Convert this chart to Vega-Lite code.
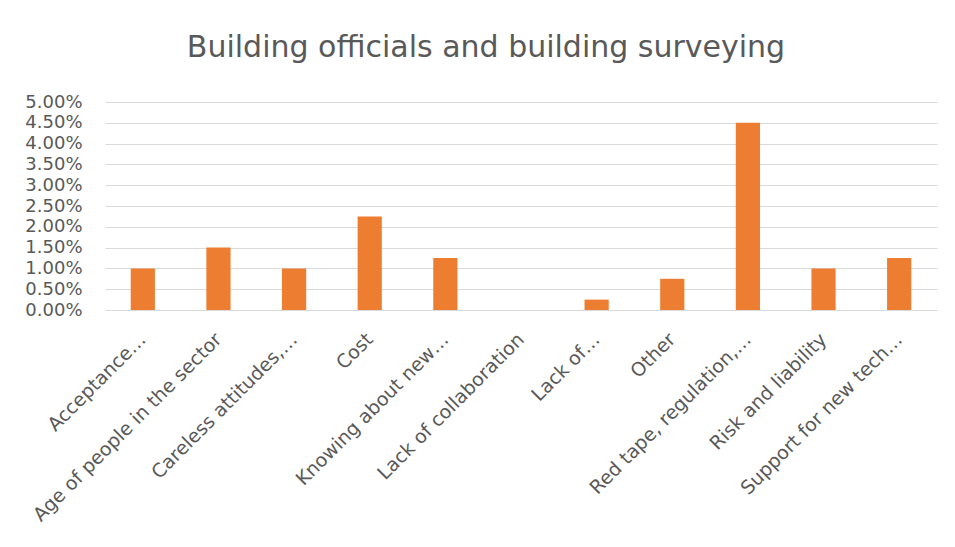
{
  "$schema": "https://vega.github.io/schema/vega-lite/v6.json",
  "width": 832,
  "height": 208,
  "autosize": {"type": "none"},
  "padding": {"left": 105, "top": 102, "right": 18, "bottom": 237},
  "background": "#ffffff",
  "title": {
    "text": "Building officials and building surveying",
    "font": "DejaVu Sans",
    "fontSize": 30,
    "fontWeight": "normal",
    "color": "#595959",
    "anchor": "middle",
    "baseline": "alphabetic",
    "offset": 6,
    "dx": -35
  },
  "data": {
    "values": [
      {"category": "Acceptance…", "value": 0.01},
      {"category": "Age of people in the sector", "value": 0.015},
      {"category": "Careless attitudes,…", "value": 0.01},
      {"category": "Cost", "value": 0.0225},
      {"category": "Knowing about new…", "value": 0.0125},
      {"category": "Lack of collaboration", "value": 0},
      {"category": "Lack of…", "value": 0.0025},
      {"category": "Other", "value": 0.0075},
      {"category": "Red tape, regulation,…", "value": 0.045},
      {"category": "Risk and liability", "value": 0.01},
      {"category": "Support for new tech…", "value": 0.0125}
    ]
  },
  "mark": {"type": "bar", "color": "#ED7D31"},
  "encoding": {
    "x": {
      "field": "category",
      "type": "nominal",
      "sort": null,
      "scale": {"paddingInner": 0.68, "paddingOuter": 0.34},
      "axis": {
        "title": null,
        "labelAngle": -45,
        "labelAlign": "right",
        "labelBaseline": "middle",
        "labelPadding": 26,
        "labelFont": "DejaVu Sans",
        "labelFontSize": 19,
        "labelColor": "#595959",
        "labelLimit": 0,
        "ticks": false,
        "domain": true,
        "domainColor": "#d9d9d9",
        "domainWidth": 1,
        "grid": false
      }
    },
    "y": {
      "field": "value",
      "type": "quantitative",
      "scale": {"domain": [0, 0.05], "nice": false},
      "axis": {
        "title": null,
        "values": [0, 0.005, 0.01, 0.015, 0.02, 0.025, 0.03, 0.035, 0.04, 0.045, 0.05],
        "format": ".2%",
        "labelFont": "DejaVu Sans",
        "labelFontSize": 18,
        "labelColor": "#595959",
        "labelPadding": 23,
        "labelOverlap": false,
        "ticks": false,
        "domain": false,
        "grid": true,
        "gridColor": "#d9d9d9",
        "gridWidth": 1
      }
    }
  },
  "config": {
    "view": {"stroke": null}
  }
}
